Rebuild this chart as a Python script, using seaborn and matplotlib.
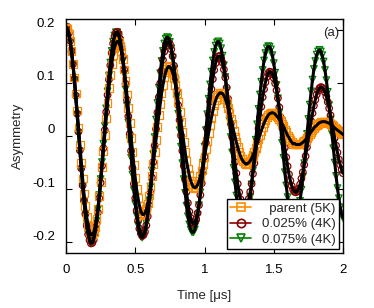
import numpy as np
import pandas as pd
import matplotlib
matplotlib.use("Agg")
import matplotlib.pyplot as plt
import matplotlib.transforms as mtransforms
from matplotlib.lines import Line2D
import seaborn as sns

time_us = np.linspace(0, 2, 201)

parent_5K = [
    0.204, 0.201, 0.192, 0.178, 0.160, 0.136, 0.110, 0.080, 0.048, 0.016, -0.017, -0.050, -0.080, -0.108,
    -0.132, -0.153, -0.169, -0.180, -0.186, -0.186, -0.181, -0.171, -0.156, -0.137, -0.113, -0.087, -0.058,
    -0.028, 0.002, 0.033, 0.062, 0.090, 0.115, 0.136, 0.153, 0.166, 0.175, 0.178, 0.176, 0.170, 0.159, 0.144,
    0.125, 0.103, 0.078, 0.052, 0.025, -0.003, -0.030, -0.055, -0.079, -0.100, -0.117, -0.131,
    -0.141, -0.147, -0.148, -0.145, -0.138, -0.127, -0.112, -0.095, -0.075, -0.053, -0.030, -0.007, 0.017,
    0.039, 0.060, 0.080, 0.096, 0.110, 0.120, 0.127, 0.131, 0.130, 0.126, 0.119, 0.109, 0.096, 0.081, 0.064,
    0.045, 0.026, 0.007, -0.012, -0.030, -0.047, -0.061, -0.074, -0.084, -0.091, -0.096, -0.097, -0.096,
    -0.092, -0.085, -0.076, -0.065, -0.053, -0.039, -0.024, -0.009, 0.006, 0.021, 0.034, 0.047, 0.058, 0.067,
    0.074, 0.078, 0.081, 0.081, 0.080, 0.076, 0.070, 0.062, 0.053, 0.044, 0.033, 0.022, 0.010, -0.001, -0.012,
    -0.021, -0.030, -0.038, -0.044, -0.048, -0.051, -0.053, -0.052, -0.050, -0.047, -0.042,
    -0.036, -0.030, -0.022, -0.014, -0.006, 0.002, 0.010, 0.017, 0.024, 0.030, 0.035, 0.039, 0.042, 0.043,
    0.044, 0.043, 0.041, 0.038, 0.035, 0.031, 0.029, 0.023, 0.018, 0.012, 0.007, 0.001, -0.003, -0.008,
    -0.012, -0.015, -0.014, -0.016, -0.016, -0.016, -0.016, -0.014, -0.012, -0.010, -0.007, -0.003, 0.000,
    0.004, 0.008, 0.011, 0.015, 0.018, 0.020, 0.023, 0.025, 0.026, 0.027, 0.027, 0.027, 0.026, 0.025, 0.024,
    0.022, 0.020, 0.018, 0.015, 0.013, 0.011, 0.009, 0.007, 0.005, 0.003,
]

x025_4K = [
    0.205, 0.202, 0.193, 0.179, 0.159, 0.135, 0.107, 0.076, 0.042, 0.008, -0.027, -0.061, -0.093, -0.122,
    -0.147, -0.169, -0.185, -0.196, -0.202, -0.201, -0.195, -0.183, -0.165, -0.144, -0.117, -0.088, -0.056,
    -0.023, 0.011, 0.045, 0.077, 0.106, 0.133, 0.156, 0.174, 0.187, 0.194, 0.196, 0.192, 0.183, 0.168, 0.149,
    0.125, 0.098, 0.068, 0.037, 0.004, -0.028, -0.060, -0.090, -0.117, -0.140, -0.159, -0.174, -0.183, -0.188,
    -0.186, -0.180, -0.168, -0.151, -0.130, -0.106, -0.078, -0.049, -0.018, 0.013, 0.044, 0.073, 0.099, 0.123,
    0.143, 0.159, 0.170, 0.176, 0.177, 0.173, 0.163, 0.150, 0.132, 0.110, 0.085, 0.058, 0.030, 0.001, -0.028,
    -0.056, -0.082, -0.105, -0.126, -0.142, -0.154, -0.162, -0.165, -0.163, -0.156, -0.145, -0.130, -0.111,
    -0.089, -0.065, -0.039, -0.013, 0.014, 0.040, 0.065, 0.088, 0.107, 0.124, 0.137, 0.146, 0.150, 0.150,
    0.146, 0.138, 0.125, 0.110, 0.091, 0.070, 0.047, 0.023, -0.002, -0.026, -0.049, -0.070, -0.090, -0.106,
    -0.119, -0.129, -0.134, -0.136, -0.134, -0.128, -0.118, -0.105, -0.090, -0.071, -0.051, -0.030, -0.008,
    0.014, 0.035, 0.055, 0.073, 0.088, 0.101, 0.111, 0.118, 0.121, 0.120, 0.116, 0.109, 0.099, 0.086, 0.071,
    0.054, 0.035, 0.016, -0.003, -0.022, -0.040, -0.057, -0.072, -0.084, -0.094, -0.101, -0.105, -0.106,
    -0.104, -0.099, -0.091, -0.080, -0.068, -0.054, -0.038, -0.021, -0.005, 0.012, 0.028, 0.043, 0.057, 0.068,
    0.078, 0.085, 0.090, 0.092, 0.091, 0.088, 0.082, 0.074, 0.064, 0.052, 0.039, 0.025, 0.010, -0.004, -0.018,
    -0.031, -0.044, -0.054, -0.063, -0.070,
]

x075_4K = [
    0.205, 0.202, 0.193, 0.178, 0.158, 0.133, 0.105, 0.073, 0.040, 0.005, -0.029, -0.063, -0.095, -0.124,
    -0.149, -0.170, -0.185, -0.196, -0.200, -0.199, -0.191, -0.178, -0.160, -0.138, -0.111, -0.081, -0.049,
    -0.015, 0.019, 0.052, 0.084, 0.113, 0.138, 0.160, 0.177, 0.189, 0.195, 0.195,
    0.190, 0.179, 0.162, 0.141, 0.117, 0.088, 0.057, 0.025, -0.008, -0.041, -0.073, -0.102, -0.128, -0.150,
    -0.168, -0.181, -0.189, -0.191, -0.187, -0.178, -0.164, -0.145, -0.121, -0.095, -0.065, -0.034, -0.002,
    0.031, 0.062, 0.091, 0.118, 0.141, 0.160, 0.174, 0.183, 0.186, 0.184, 0.177, 0.165, 0.147, 0.126, 0.101,
    0.073, 0.042, 0.011, -0.020, -0.051, -0.081, -0.107, -0.131, -0.151, -0.166, -0.176, -0.181, -0.181,
    -0.176, -0.165, -0.149, -0.130, -0.106, -0.079, -0.050, -0.020, 0.011, 0.041, 0.070, 0.097, 0.121, 0.142,
    0.158, 0.170, 0.176, 0.178, 0.174, 0.165, 0.151, 0.133, 0.111, 0.086, 0.058, 0.029, -0.002, -0.031,
    -0.060, -0.087, -0.112, -0.133, -0.150, -0.163, -0.171, -0.174, -0.171, -0.164, -0.152, -0.135, -0.115,
    -0.091, -0.065, -0.037, -0.007, 0.022, 0.051, 0.078, 0.102, 0.124, 0.142, 0.156, 0.165, 0.169, 0.168,
    0.163, 0.152, 0.137, 0.119, 0.096, 0.071, 0.044, 0.016, -0.013, -0.041, -0.068, -0.093, -0.115, -0.134,
    -0.149, -0.159, -0.164, -0.165, -0.161, -0.152, -0.139, -0.122, -0.101, -0.077, -0.051, -0.024, 0.004,
    0.032, 0.059, 0.084, 0.106, 0.126, 0.141, 0.153, 0.159, 0.162, 0.159, 0.152, 0.140, 0.124, 0.105, 0.083,
    0.058, 0.031, 0.004, -0.023, -0.050, -0.075, -0.098, -0.117, -0.134, -0.146, -0.154,
]

labels = ["  parent (5K)", "0.025% (4K)", "0.075% (4K)"]
colors = ["#ff8c00", "#8b0000", "#008000"]
markers = ["s", "o", "v"]
sizes = [32, 22, 22]

df = pd.DataFrame({"time": time_us, "parent": parent_5K, "x025": x025_4K, "x075": x075_4K})
cols = ["parent", "x025", "x075"]

sns.set_style("ticks")
plt.rcParams["font.family"] = ["Liberation Sans", "DejaVu Sans"]
plt.rcParams["font.size"] = 9.5

fig = plt.figure(figsize=(3.74, 3.08), dpi=100)
ax = fig.add_axes([0.1765, 0.1786, 0.7406, 0.7597])

# data points (green at the back, parent on top), fits drawn in black over them
for col, c, m, sz in reversed(list(zip(cols, colors, markers, sizes))):
    sns.scatterplot(data=df, x="time", y=col, ax=ax, marker=m, s=sz, facecolors="none",
                    edgecolor=c, linewidth=0.9, zorder=2)
for col in cols:
    sns.lineplot(data=df, x="time", y=col, ax=ax, color="black", lw=2.2, zorder=3)

ax.set_xlim(0, 2)
ax.set_ylim(-0.22, 0.22)
ax.set_xticks([0, 0.5, 1, 1.5, 2])
ax.set_xticklabels(["0", "0.5", "1", "1.5", "2"])
ax.set_yticks([-0.2, -0.1, 0, 0.1, 0.2])
ax.set_yticklabels(["-0.2", "-0.1", "0", "0.1", "0.2"])
ax.tick_params(direction="in", length=4, width=0.8, top=True, right=True, pad=8, colors="black")
for sp in ax.spines.values():
    sp.set_linewidth(1.0)
    sp.set_color("black")
# y labels sit a little above their ticks in the original
shift = mtransforms.ScaledTranslation(0, 0.07, fig.dpi_scale_trans)
for lab in ax.get_yticklabels():
    lab.set_transform(lab.get_transform() + shift)
ax.set_xlabel("Time [μs]", labelpad=10)
ax.set_ylabel("Asymmetry", labelpad=6)
ax.text(0.985, 0.965, "(a)", transform=ax.transAxes, ha="right", va="top")

handles = [Line2D([], [], color=c, marker=m, markerfacecolor="none", markeredgewidth=1.2,
                  markersize=6, lw=1.2) for c, m in zip(colors, markers)]
leg = ax.legend(handles, labels, loc="lower right", frameon=True, fancybox=False,
                edgecolor="black", framealpha=1, handlelength=1.6, handletextpad=0.8,
                borderpad=0.25, labelspacing=0.25, borderaxespad=0.3)
leg.get_frame().set_linewidth(1.0)

fig.savefig("out.png", dpi=100)
